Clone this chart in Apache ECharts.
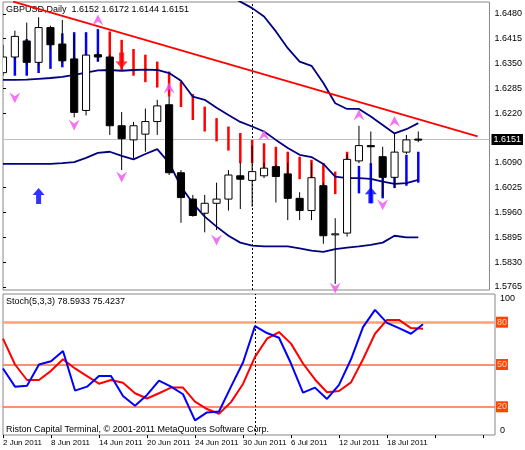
<!DOCTYPE html>
<html>
<head>
<meta charset="utf-8">
<script src="https://cdn.jsdelivr.net/npm/echarts@6/dist/echarts.min.js"></script>
<style>
  html, body { margin: 0; padding: 0; background: #fff; }
  #main { width: 525px; height: 450px; }
</style>
</head>
<body>
<div id="main"></div>
<script>
// dates of the bars (daily)
const dates = ['2 Jun 2011','3 Jun 2011','6 Jun 2011','7 Jun 2011','8 Jun 2011','9 Jun 2011','10 Jun 2011',
  '13 Jun 2011','14 Jun 2011','15 Jun 2011','16 Jun 2011','17 Jun 2011','20 Jun 2011','21 Jun 2011','22 Jun 2011',
  '23 Jun 2011','24 Jun 2011','27 Jun 2011','28 Jun 2011','29 Jun 2011','30 Jun 2011','1 Jul 2011','4 Jul 2011',
  '5 Jul 2011','6 Jul 2011','7 Jul 2011','8 Jul 2011','11 Jul 2011','12 Jul 2011','13 Jul 2011','14 Jul 2011',
  '15 Jul 2011','18 Jul 2011','19 Jul 2011','20 Jul 2011','21 Jul 2011'];

// open, close, low, high
const ohlc = [
  [1.6326,1.6367,1.6318,1.6399],[1.6367,1.6421,1.6360,1.6436],[1.6409,1.6353,1.6346,1.6457],
  [1.6353,1.6444,1.6344,1.6471],[1.6444,1.6399,1.6386,1.6449],[1.6401,1.6357,1.6351,1.6464],
  [1.6362,1.6222,1.6209,1.6425],[1.6227,1.6372,1.6214,1.6373],[1.6373,1.6367,1.6354,1.6380],
  [1.6367,1.6187,1.6163,1.6373],[1.6187,1.6153,1.6071,1.6223],[1.6150,1.6187,1.6102,1.6197],
  [1.6165,1.6198,1.6119,1.6232],[1.6198,1.6239,1.6163,1.6255],[1.6242,1.6064,1.6058,1.6263],
  [1.6064,1.5999,1.5933,1.6071],[1.5995,1.5952,1.5949,1.6006],[1.5958,1.5984,1.5908,1.6006],
  [1.5984,1.5995,1.5914,1.6038],[1.5995,1.6058,1.5965,1.6071],[1.6056,1.6047,1.5969,1.6091],
  [1.6044,1.6067,1.5975,1.6135],[1.6056,1.6076,1.6050,1.6090],[1.6080,1.6054,1.5986,1.6085],
  [1.6061,1.5997,1.5940,1.6090],[1.5997,1.5965,1.5940,1.6013],[1.5965,1.6051,1.5940,1.6090],
  [1.6030,1.5899,1.5878,1.6038],[1.5903,1.5904,1.5773,1.5945],[1.5906,1.6099,1.5897,1.6113],
  [1.6095,1.6135,1.6089,1.6187],[1.6135,1.6132,1.6085,1.6172],[1.6106,1.6052,1.6002,1.6132],
  [1.6052,1.6118,1.6024,1.6168],[1.6118,1.6150,1.6113,1.6163],[1.6152,1.6151,1.6144,1.6172]
];

// bollinger bands
const bbUpper = [1.6570,1.6570,1.6570,1.6570,1.6570,1.6570,1.6570,1.6570,1.6570,1.6570,1.6570,1.6570,1.6570,1.6570,
  1.6575,1.6580,1.6575,1.6565,1.6550,1.6530,1.6512,1.6495,1.6473,1.6434,1.6390,1.6355,1.6344,1.6299,1.6246,
  1.6231,1.6231,1.6211,1.6189,1.6167,1.6178,1.6194];
const bbMiddle = [1.6307,1.6307,1.6308,1.6310,1.6312,1.6315,1.6320,1.6326,1.6332,1.6333,1.6331,1.6333,1.6334,1.6333,
  1.6325,1.6305,1.6263,1.6255,1.6234,1.6215,1.6197,1.6185,1.6172,1.6150,1.6129,1.6111,1.6105,1.6087,1.6054,
  1.6050,1.6050,1.6048,1.6041,1.6035,1.6037,1.6045];
const bbLower = [1.6087,1.6087,1.6087,1.6087,1.6087,1.6089,1.6092,1.6103,1.6116,1.6119,1.6108,1.6099,1.6113,1.6126,
  1.6090,1.6028,1.5984,1.5949,1.5923,1.5899,1.5881,1.5873,1.5871,1.5871,1.5871,1.5866,1.5860,1.5857,1.5864,
  1.5868,1.5871,1.5875,1.5881,1.5899,1.5895,1.5895];

// trend indicator bars: [bar, top, bottom, 0 = blue / 1 = red]
const trendBars = [
  [1,1.6367,1.6318,0],[2,1.6414,1.6318,0],[3,1.6414,1.6325,0],[4,1.6429,1.6336,0],[5,1.6429,1.6340,0],
  [6,1.6432,1.6360,0],[7,1.6432,1.6353,0],[8,1.6440,1.6355,0],
  [9,1.6434,1.6316,1],[10,1.6412,1.6333,1],[11,1.6388,1.6318,1],[12,1.6373,1.6301,1],[13,1.6355,1.6287,1],
  [14,1.6329,1.6263,1],[15,1.6303,1.6236,1],[16,1.6270,1.6202,1],[17,1.6237,1.6172,1],[18,1.6207,1.6146,1],
  [19,1.6185,1.6122,1],[20,1.6168,1.6089,1],[21,1.6150,1.6089,1],[22,1.6141,1.6076,1],[23,1.6132,1.6056,1],
  [24,1.6119,1.6045,1],[25,1.6106,1.6047,1],[26,1.6098,1.6045,1],[27,1.6089,1.6009,1],[28,1.6067,1.6008,1],
  [29,1.6119,1.6006,1],
  [30,1.6082,1.6010,0],[31,1.6089,1.5984,0],[32,1.6093,1.5997,0],[33,1.6089,1.6024,0],[34,1.6111,1.6030,0],
  [35,1.6119,1.6038,0]
];

// fractal marks
const fractalUp = [[8,1.6464],[14,1.6286],[22,1.6163],[30,1.6215],[33,1.6198]];
const fractalDown = [[1,1.6260],[6,1.6189],[10,1.6053],[18,1.5888],[28,1.5762],[32,1.5980]];
// signal arrows
const buyArrows = [[3,1.6003],[31,1.6005]];
const sellArrows = [[10,1.6358]];
// resistance line
const trendLine = [[0.86,1.6512],[40,1.6159]];

// 1.6155 sits under the last price box, so it is left out
const priceTicks = [1.5765,1.5830,1.5895,1.5960,1.6025,1.6090,1.6220,1.6285,1.6350,1.6415,1.6480];
const lastPrice = 1.6151;

// stochastic
const stochK = [47.2,34.3,35.0,50.0,52.3,59.6,31.5,34.3,41.8,41.8,27.7,20.7,28.4,38.5,34.3,28.9,10.4,16.0,
  16.7,34.3,51.4,77.2,72.3,69.0,50.7,30.1,33.6,25.6,35.5,53.7,76.5,88.7,79.5,75.8,71.8,78.6];
const stochD = [68.3,50.0,39.0,39.0,45.5,53.7,47.2,41.8,36.4,39.0,37.1,29.6,25.9,29.6,33.6,33.6,23.7,18.4,
  15.1,23.3,36.2,55.4,68.3,73.0,64.8,50.7,39.4,30.3,31.2,37.3,53.7,71.8,81.6,81.6,75.8,75.4];

const font = 'Liberation Sans';
const chart = echarts.init(document.getElementById('main'), null, { renderer: 'canvas' });

const upPath = 'path://M0,0 L6,11 L0,7 L-6,11 Z';
const downPath = 'path://M0,11 L6,0 L0,4 L-6,0 Z';
const arrowUpPath = 'path://M0,0 L6,7 L2.5,7 L2.5,16 L-2.5,16 L-2.5,7 L-6,7 Z';
const arrowDownPath = 'path://M0,16 L6,9 L2.5,9 L2.5,0 L-2.5,0 L-2.5,9 L-6,9 Z';

function renderCandle(params, api) {
  const i = api.value(0);
  const o = api.value(1), c = api.value(2), l = api.value(3), h = api.value(4);
  const pO = api.coord([i, o]), pC = api.coord([i, c]);
  const pL = api.coord([i, l]), pH = api.coord([i, h]);
  const w = api.size([1, 0])[0] * 0.6;
  const top = Math.min(pO[1], pC[1]);
  const hgt = Math.max(Math.abs(pO[1] - pC[1]), 1);
  return {
    type: 'group',
    children: [
      { type: 'line', shape: { x1: pH[0], y1: pH[1], x2: pL[0], y2: pL[1] }, style: { stroke: '#000', lineWidth: 1 } },
      { type: 'rect', shape: { x: pO[0] - w / 2, y: top, width: w, height: hgt },
        style: { fill: c >= o ? '#fff' : '#000', stroke: '#000', lineWidth: 1 } }
    ]
  };
}

function renderTrendBar(params, api) {
  const a = api.coord([api.value(0), api.value(1)]);
  const b = api.coord([api.value(0), api.value(2)]);
  return { type: 'line', shape: { x1: a[0], y1: a[1], x2: b[0], y2: b[1] },
    style: { stroke: api.value(3) ? '#ff0000' : '#0000ff', lineWidth: 2.5 } };
}

chart.setOption({
  animation: false,
  textStyle: { fontFamily: font },
  graphic: [
    { type: 'text', left: 6, top: 5, style: { text: 'GBPUSD,Daily  1.6152 1.6172 1.6144 1.6151', font: '9px ' + font, fill: '#000' } },
    { type: 'text', left: 6, top: 297, style: { text: 'Stoch(5,3,3) 78.5933 75.4237', font: '9px ' + font, fill: '#000' } },
    { type: 'text', left: 6, top: 425, style: { text: 'Riston Capital Terminal, © 2001-2011 MetaQuotes Software Corp.', font: '9px ' + font, fill: '#000' } }
  ],
  grid: [
    { left: 3, right: 30, top: 2, height: 288, show: true, borderColor: '#888', borderWidth: 1 },
    { left: 3, right: 30, top: 294, height: 141, show: true, borderColor: '#888', borderWidth: 1 }
  ],
  xAxis: [
    { type: 'value', gridIndex: 0, min: 0, max: 41, show: false },
    { type: 'value', gridIndex: 1, min: 0, max: 41, interval: 4,
      axisLine: { show: false }, splitLine: { show: false },
      axisTick: { show: true, length: 3, lineStyle: { color: '#000' } },
      axisLabel: { align: 'left', fontSize: 8, color: '#000', margin: 4, showMaxLabel: false,
        formatter: v => (v < dates.length ? dates[v] : '') } }
  ],
  yAxis: [
    { type: 'value', gridIndex: 0, position: 'right', min: 1.5757, max: 1.6511,
      splitLine: { show: false }, axisLine: { show: false },
      axisTick: { show: true, length: 3, customValues: priceTicks, lineStyle: { color: '#000' } },
      axisLabel: { fontSize: 9, color: '#000', margin: 5, customValues: priceTicks, formatter: v => v.toFixed(4) } },
    { type: 'value', gridIndex: 1, position: 'right', min: 0, max: 100,
      splitLine: { show: false }, axisLine: { show: false }, axisTick: { show: false },
      axisLabel: { fontSize: 9, color: '#000', margin: 5, customValues: [97, 3], formatter: v => (v > 50 ? '100' : '0') } }
  ],
  series: [
    { type: 'line', name: 'last', xAxisIndex: 0, yAxisIndex: 0, showSymbol: false, clip: false, z: 1,
      lineStyle: { color: '#c0c0c0', width: 1 }, data: [[0, lastPrice], [41, lastPrice]],
      endLabel: { show: true, formatter: '1.6151', color: '#fff', backgroundColor: '#000', fontSize: 9,
        padding: [1, 2], distance: 2 } },
    { type: 'custom', name: 'trend', xAxisIndex: 0, yAxisIndex: 0, clip: true, z: 2,
      renderItem: renderTrendBar, data: trendBars },
    { type: 'line', name: 'upper', xAxisIndex: 0, yAxisIndex: 0, showSymbol: false, clip: true, z: 3,
      lineStyle: { color: '#000080', width: 1.8 }, data: bbUpper.map((v, i) => [i, v]) },
    { type: 'line', name: 'middle', xAxisIndex: 0, yAxisIndex: 0, showSymbol: false, clip: true, z: 3,
      lineStyle: { color: '#000080', width: 1.8 }, data: bbMiddle.map((v, i) => [i, v]) },
    { type: 'line', name: 'lower', xAxisIndex: 0, yAxisIndex: 0, showSymbol: false, clip: true, z: 3,
      lineStyle: { color: '#000080', width: 1.8 }, data: bbLower.map((v, i) => [i, v]) },
    { type: 'custom', name: 'price', xAxisIndex: 0, yAxisIndex: 0, clip: true, z: 4,
      renderItem: renderCandle, data: ohlc.map((d, i) => [i].concat(d)) },
    { type: 'line', name: 'resistance', xAxisIndex: 0, yAxisIndex: 0, showSymbol: false, clip: true, z: 5,
      lineStyle: { color: '#ff0000', width: 1.8 }, data: trendLine,
      markLine: { silent: true, symbol: 'none', z: 1,
        data: [ { xAxis: 21, lineStyle: { color: '#000', type: [2, 2], width: 1 }, label: { show: false } } ] } },
    { type: 'scatter', name: 'fractalUp', xAxisIndex: 0, yAxisIndex: 0, symbol: upPath, symbolSize: [11, 11], z: 6,
      itemStyle: { color: '#f050f0' }, data: fractalUp },
    { type: 'scatter', name: 'fractalDown', xAxisIndex: 0, yAxisIndex: 0, symbol: downPath, symbolSize: [11, 11], z: 6,
      itemStyle: { color: '#f050f0' }, data: fractalDown },
    { type: 'scatter', name: 'buy', xAxisIndex: 0, yAxisIndex: 0, symbol: arrowUpPath, symbolSize: [12, 16], z: 6,
      itemStyle: { color: '#0000ff' }, data: buyArrows },
    { type: 'scatter', name: 'sell', xAxisIndex: 0, yAxisIndex: 0, symbol: arrowDownPath, symbolSize: [12, 16], z: 6,
      itemStyle: { color: '#ff0000' }, data: sellArrows },
    { type: 'line', name: '%D', xAxisIndex: 1, yAxisIndex: 1, showSymbol: false, z: 3,
      lineStyle: { color: '#ff0000', width: 2 }, data: stochD.map((v, i) => [i, v]),
      markLine: { silent: true, symbol: 'none', z: 1,
        label: { position: 'end', distance: 1, color: '#ffd0c0', backgroundColor: '#ff4500', fontSize: 9, padding: [1, 1] },
        data: [
          { yAxis: 80, lineStyle: { color: '#ffa07a', type: 'solid', width: 2.5 }, label: { formatter: '80' } },
          { yAxis: 50, lineStyle: { color: '#ff6a3c', type: 'solid', width: 1.5 }, label: { formatter: '50' } },
          { yAxis: 20, lineStyle: { color: '#ff6a3c', type: 'solid', width: 1.5 }, label: { formatter: '20' } },
          { xAxis: 21, lineStyle: { color: '#000', type: [2, 2], width: 1 }, label: { show: false } }
        ] } },
    { type: 'line', name: '%K', xAxisIndex: 1, yAxisIndex: 1, showSymbol: false, z: 4,
      lineStyle: { color: '#0000ff', width: 2 }, data: stochK.map((v, i) => [i, v]) }
  ]
});
</script>
</body>
</html>
